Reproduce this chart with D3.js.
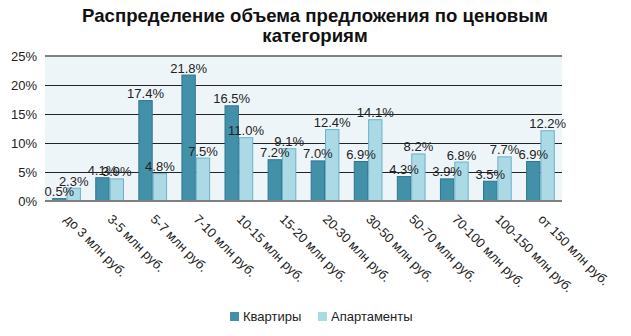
<!DOCTYPE html>
<html><head><meta charset="utf-8">
<script src="https://cdn.jsdelivr.net/npm/d3@7"></script>
<style>body{margin:0;background:#fff;}svg{display:block;font-family:"Liberation Sans",Arial,sans-serif;}</style>
</head><body>
<script>
const categories = ["до 3 млн руб.","3-5 млн руб.","5-7 млн руб.","7-10 млн руб.","10-15 млн руб.","15-20 млн руб.","20-30 млн руб.","30-50 млн руб.","50-70 млн руб.","70-100 млн руб.","100-150 млн руб.","от 150 млн руб."];
const flats = [0.5,4.1,17.4,21.8,16.5,7.2,7.0,6.9,4.3,3.9,3.5,6.9];
const apartments = [2.3,3.9,4.8,7.5,11.0,9.1,12.4,14.1,8.2,6.8,7.7,12.2];
const seriesNames = ["Квартиры","Апартаменты"];
const yTicks = [0,5,10,15,20,25];
const titleLines = ["Распределение объема предложения по ценовым","категориям"];

const W=631,H=336;
const m={left:45,right:69,top:56,bottom:135};
const svg=d3.select("body").append("svg").attr("width",W).attr("height",H);
const x=d3.scaleBand().domain(categories).range([m.left,W-m.right]).paddingInner(0).paddingOuter(0);
const y=d3.scaleLinear().domain([0,25]).range([H-m.bottom,m.top]);
const inner=d3.scaleBand().domain(seriesNames).range([0,x.bandwidth()]).paddingInner(0).paddingOuter(0.5);
const fills={"Квартиры":"#4391a8","Апартаменты":"#acd9e6"};
const strokes={"Квартиры":"#2f7590","Апартаменты":"#6cb1c6"};

// title
svg.append("g").selectAll("text").data(titleLines).join("text")
 .attr("x",315).attr("y",(d,i)=>22+i*20).attr("text-anchor","middle")
 .attr("font-size",18.6).attr("font-weight","bold").attr("fill","#111").text(d=>d);

// plot background
svg.append("rect").attr("x",m.left).attr("y",m.top).attr("width",W-m.right-m.left).attr("height",H-m.bottom-m.top).attr("fill","#eef5f9");

// gridlines
svg.append("g").selectAll("line").data(yTicks.filter(t=>t>0&&t<25)).join("line")
 .attr("x1",m.left).attr("x2",W-m.right).attr("y1",d=>y(d)+0.5).attr("y2",d=>y(d)+0.5)
 .attr("stroke","#222").attr("stroke-width",1);
svg.append("line").attr("x1",m.left).attr("x2",W-m.right).attr("y1",y(25)).attr("y2",y(25)).attr("stroke","#808080").attr("stroke-width",2);

// y axis
const ya=svg.append("g").attr("transform",`translate(${m.left},0)`)
 .call(d3.axisLeft(y).tickValues(yTicks).tickFormat(d=>d+"%").tickSize(0).tickPadding(8));
ya.select(".domain").remove();
ya.selectAll("text").attr("font-size",13).attr("fill","#222").attr("font-family","Liberation Sans, Arial, sans-serif");

// bars
const data=categories.map((c,i)=>({c,vals:[{s:seriesNames[0],v:flats[i]},{s:seriesNames[1],v:apartments[i]}]}));
const g=svg.append("g").selectAll("g").data(data).join("g").attr("transform",d=>`translate(${x(d.c)},0)`);
g.selectAll("rect").data(d=>d.vals).join("rect")
 .attr("x",d=>inner(d.s)+0.5).attr("width",inner.bandwidth()-1)
 .attr("y",d=>y(d.v)+0.5).attr("height",d=>y(0)-y(d.v)-0.5)
 .attr("fill",d=>fills[d.s]).attr("stroke",d=>strokes[d.s]).attr("stroke-width",1);

// baseline
svg.append("line").attr("x1",m.left).attr("x2",W-m.right).attr("y1",y(0)).attr("y2",y(0)).attr("stroke","#808080").attr("stroke-width",2);

// value labels
g.selectAll("text.v").data(d=>d.vals).join("text").attr("class","v")
 .attr("x",d=>inner(d.s)+inner.bandwidth()/2).attr("y",d=>y(d.v)-2)
 .attr("text-anchor","middle").attr("font-size",13).attr("fill","#222").text(d=>d.v.toFixed(1)+"%");

// x axis labels
const xa=svg.append("g").attr("transform",`translate(0,${y(0)})`)
 .call(d3.axisBottom(x).tickSize(0).tickPadding(0));
xa.select(".domain").remove();
xa.selectAll("text").attr("font-size",13).attr("fill","#222").attr("font-family","Liberation Sans, Arial, sans-serif")
 .attr("text-anchor","start").attr("dy",0).attr("y",0)
 .attr("transform","translate(-3,19) rotate(45)");

// legend
const lg=svg.append("g").selectAll("g").data(seriesNames).join("g")
 .attr("transform",(d,i)=>`translate(${[230,318][i]},312)`);
lg.append("rect").attr("width",9).attr("height",9).attr("fill",d=>fills[d]);
lg.append("text").attr("x",13).attr("y",9).attr("font-size",13).attr("fill","#222").text(d=>d);
</script>
</body></html>
